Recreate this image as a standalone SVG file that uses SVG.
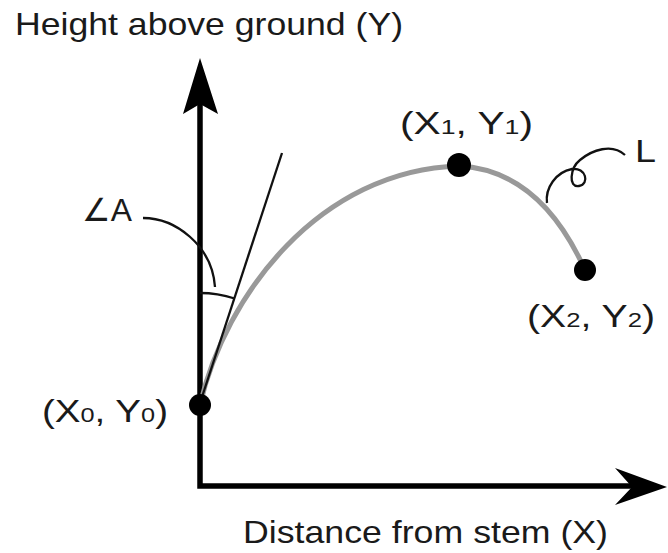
<svg xmlns="http://www.w3.org/2000/svg" width="668" height="553" viewBox="0 0 668 553">
<style>
text { font-family: "Liberation Sans", Arial, sans-serif; font-size: 32px; fill: #1a1a1a; }
.sub { font-size: 21px; }
.axis { fill: none; stroke: #000; stroke-width: 5.5; stroke-linejoin: miter; }
.head { fill: #000; }
.thin { fill: none; stroke: #111; stroke-width: 2.3; }
.curve { fill: none; stroke: #999; stroke-width: 5; stroke-linecap: round; }
.dot { fill: #000; }
</style>
<rect width="668" height="553" fill="#fff"/>
<g id="connectors">
  <path class="axis" d="M200,100 L200,486 L640,486"/>
  <path class="head" d="M200,58 L218,114 L200,104 L183,114 Z"/>
  <path class="head" d="M667,487 L615,468 L632,487 L615,505 Z"/>
  <path class="curve" d="M200,405 C225,295 320,170 459,166 Q540,170 585,270"/>
  <path class="thin" d="M201,400 L282,153"/>
  <path class="thin" d="M200,293 A112,112 0 0 1 234.6,298.5"/>
  <path class="thin" d="M143,218 C175,218 212,245 215,287"/>
  <path class="thin" d="M547,203 C545,188 556,172 572,169 C586,167 590,184 579,186 C568,188 570,168 580,160 C592,150 612,143 625,155"/>
</g>
<g id="y-axis-label"><text x="15" y="35" textLength="388" lengthAdjust="spacingAndGlyphs">Height above ground (Y)</text></g>
<g id="x-axis-label"><text x="243" y="543" textLength="365" lengthAdjust="spacingAndGlyphs">Distance from stem (X)</text></g>
<g id="angle-label"><text x="82" y="221" textLength="50" lengthAdjust="spacingAndGlyphs">∠A</text></g>
<g id="length-label"><text x="635" y="162" textLength="21" lengthAdjust="spacingAndGlyphs">L</text></g>
<g id="point0">
  <circle class="dot" cx="200" cy="405" r="11"/>
  <text x="42" y="422" textLength="126" lengthAdjust="spacingAndGlyphs">(X<tspan class="sub">0</tspan>, Y<tspan class="sub">0</tspan>)</text>
</g>
<g id="point1">
  <circle class="dot" cx="459" cy="165" r="12"/>
  <text x="400" y="134" textLength="133" lengthAdjust="spacingAndGlyphs">(X<tspan class="sub">1</tspan>, Y<tspan class="sub">1</tspan>)</text>
</g>
<g id="point2">
  <circle class="dot" cx="585" cy="270" r="11"/>
  <text x="527" y="327" textLength="128" lengthAdjust="spacingAndGlyphs">(X<tspan class="sub">2</tspan>, Y<tspan class="sub">2</tspan>)</text>
</g>
</svg>
